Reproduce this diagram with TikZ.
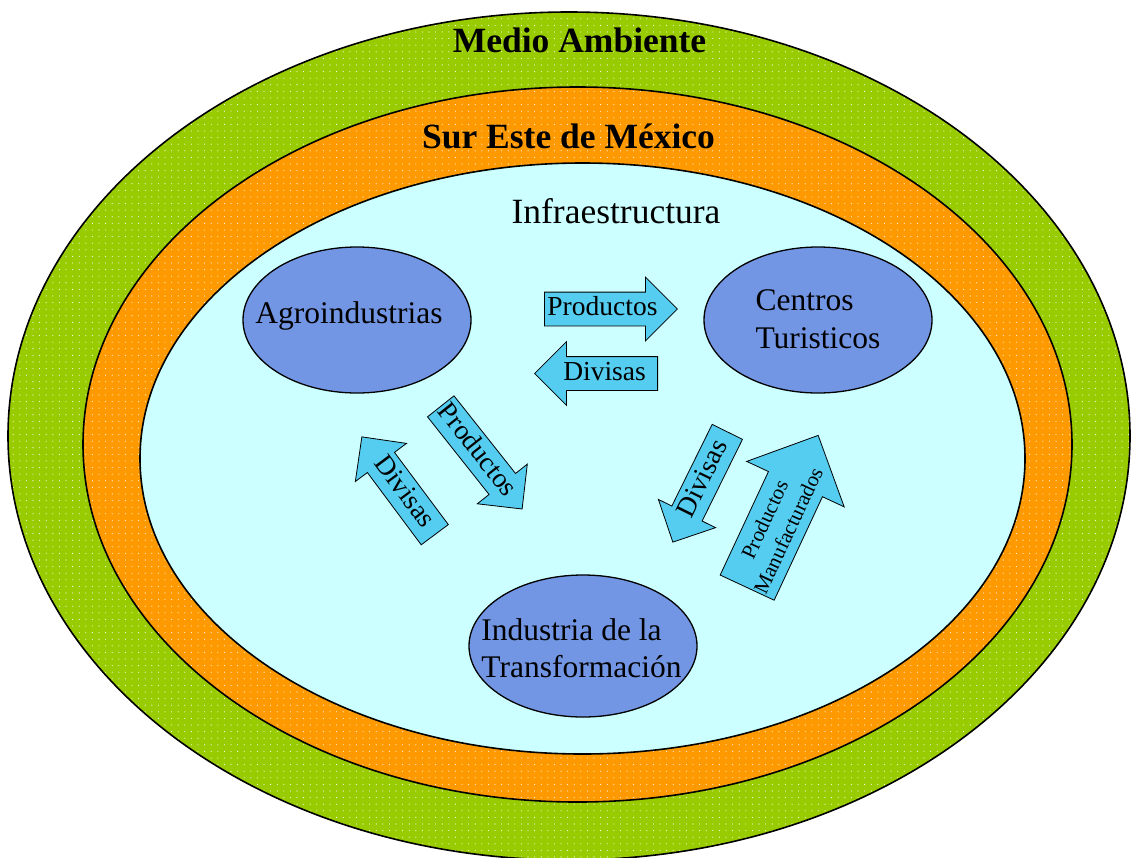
\documentclass[tikz,border=0pt]{standalone}
\usepackage{fontspec}
\setmainfont{Liberation Serif}
\usetikzlibrary{shapes.arrows,shapes.geometric,patterns}
\definecolor{greenbg}{RGB}{153,204,0}
\definecolor{orangebg}{RGB}{255,153,0}
\definecolor{cyanbg}{RGB}{204,255,255}
\definecolor{blueell}{RGB}{115,150,228}
\definecolor{arrowfill}{RGB}{85,205,240}
\pgfdeclarepatternformonly{sparsedots}{\pgfpoint{-1pt}{-1pt}}{\pgfpoint{1pt}{1pt}}{\pgfpoint{6.6pt}{6.6pt}}{\pgfpathcircle{\pgfpointorigin}{0.55pt}\pgfusepath{fill}}
\begin{document}
\begin{tikzpicture}[x=1pt,y=-1pt,
  ring/.style={draw=black,line width=1.6pt},
  dots/.style={pattern=sparsedots,pattern color=white},
  sector/.style={ellipse,draw=black,line width=1.3pt,fill=blueell,minimum width=228pt,minimum height=146pt,inner sep=0pt},
  sectortext/.style={font=\fontsize{31.5}{37.5}\selectfont,align=left,inner sep=0pt},
  title/.style={font=\fontsize{35.5}{40}\selectfont\bfseries,inner sep=0pt,anchor=base},
  flow/.style={single arrow,draw=black,line width=0.8pt,fill=arrowfill,
    font=\fontsize{27.5}{30}\selectfont,text height=21pt,text depth=8pt,
    inner ysep=2pt,inner xsep=0pt,single arrow head extend=15pt,
    single arrow tip angle=90,anchor=tail},
  back/.style={shape border rotate=180}]
\useasboundingbox (0,0) rectangle (1131,857);
% nested regions
\fill[greenbg] (569,436) ellipse [x radius=561pt,y radius=424pt];
\fill[dots] (569,436) ellipse [x radius=561pt,y radius=424pt];
\draw[ring] (569,436) ellipse [x radius=561pt,y radius=424pt];
\fill[orangebg] (577.5,444.5) ellipse [x radius=494.5pt,y radius=357.5pt];
\fill[dots] (577.5,444.5) ellipse [x radius=494.5pt,y radius=357.5pt];
\draw[ring] (577.5,444.5) ellipse [x radius=494.5pt,y radius=357.5pt];
\fill[cyanbg,ring] (582.5,458.5) ellipse [x radius=442.5pt,y radius=295.5pt];
\node[title] (medio) at (579.5,52) {Medio Ambiente};
\node[title] (sur) at (568.5,148) {Sur Este de México};
\node[font=\fontsize{35.5}{40}\selectfont,inner sep=0pt,anchor=base] (infra) at (616,223) {Infraestructura};
% sectors
\node[sector] (agro) at (357,320) {};
\node[sectortext] (agrot) at (349,316) {Agroindustrias};
\node[sector] (tur) at (818,320) {};
\node[sectortext] (turt) at (818,319) {Centros\\Turisticos};
\node[sector,minimum height=142pt] (ind) at (583,646) {};
\node[sectortext] (indt) at (581.5,648) {Industria de la\\Transformación};
% flows
\node[flow,minimum height=133pt] (p1) at (544,309) {Productos};
\node[flow,back,minimum height=123pt] (d1) at (658,373.5) {Divisas};
\node[flow,rotate=-51.6,minimum height=131pt] (p2) at (440.5,406) {Productos};
\node[flow,back,rotate=-53.3,minimum height=122pt] (d2) at (435,535) {Divisas};
\node[flow,back,rotate=63.7,minimum height=123pt] (d3) at (727.5,431.5) {Divisas};
\node[flow,rotate=65,minimum height=168pt,font=\fontsize{21}{26}\selectfont,
  align=center,text height=,text depth=,inner ysep=9pt,single arrow head extend=24pt] (pm) at (747,588) {Productos\\Manufacturados};
\end{tikzpicture}
\end{document}
